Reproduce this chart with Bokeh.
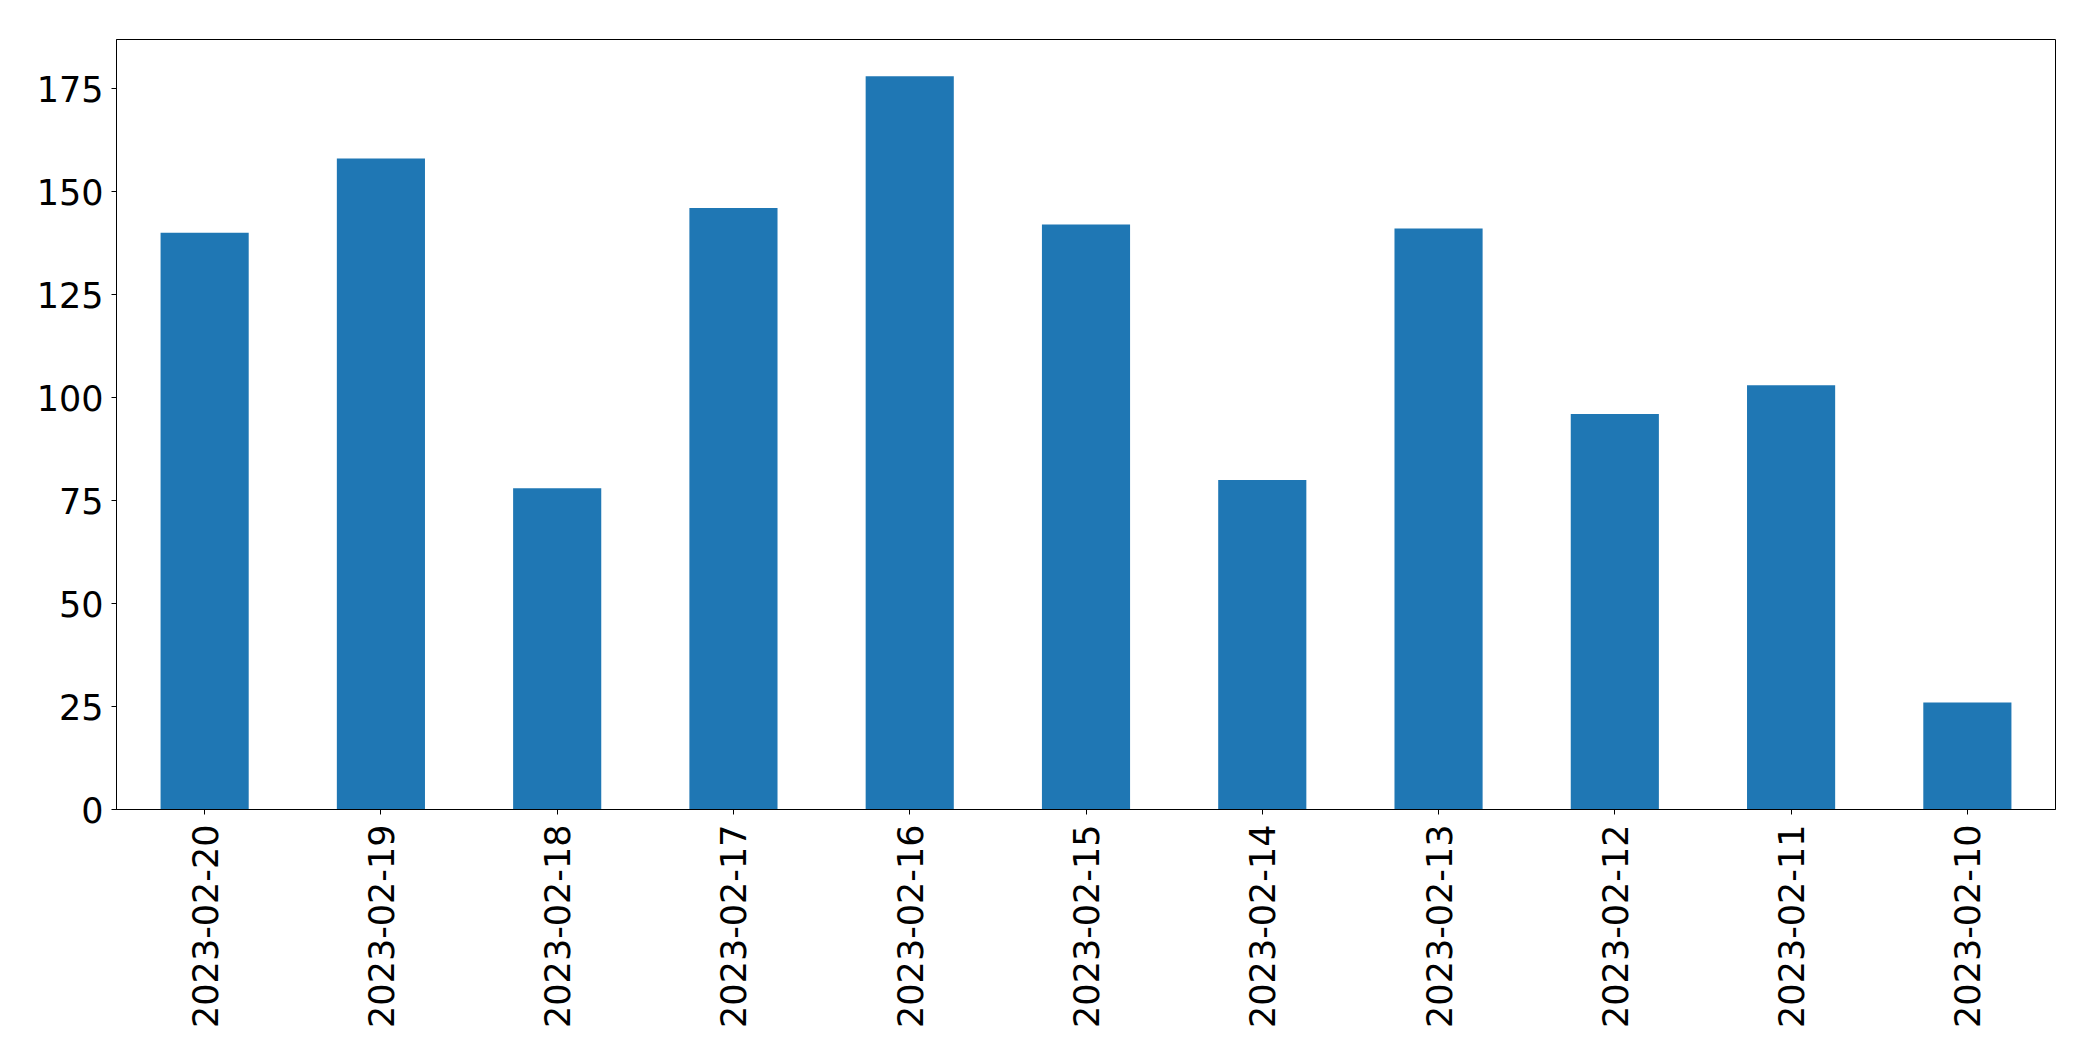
import math
from bokeh.plotting import figure
from bokeh.models import FactorRange, Range1d, FixedTicker, ColumnDataSource
from bokeh.embed import file_html
from bokeh.resources import INLINE

dates = ["2023-02-20", "2023-02-19", "2023-02-18", "2023-02-17", "2023-02-16",
         "2023-02-15", "2023-02-14", "2023-02-13", "2023-02-12", "2023-02-11",
         "2023-02-10"]
counts = [140, 158, 78, 146, 178, 142, 80, 141, 96, 103, 26]
y_ticks = [0, 25, 50, 75, 100, 125, 150, 175]

src = ColumnDataSource(data=dict(date=dates, count=counts))

p = figure(
    x_range=FactorRange(*dates, range_padding=0),
    y_range=Range1d(0, max(counts) * 1.05),
    width=2085, height=1053,
    output_backend="svg", toolbar_location=None,
    min_border_left=116, min_border_right=30,
    min_border_top=39, min_border_bottom=244,
)
p.vbar(x="date", top="count", width=0.5, source=src,
       fill_color="#1f77b4", line_color=None)

p.xgrid.visible = False
p.ygrid.visible = False
p.outline_line_color = "black"
p.outline_line_width = 1
p.outline_line_alpha = 1
p.background_fill_color = "white"
p.border_fill_color = "white"

p.yaxis.ticker = FixedTicker(ticks=y_ticks)
p.xaxis.major_label_orientation = math.pi / 2

for ax in (p.xaxis[0], p.yaxis[0]):
    ax.axis_line_color = "black"
    ax.major_tick_line_color = "black"
    ax.major_tick_out = 5
    ax.major_tick_in = 0
    ax.minor_tick_line_color = None
    ax.major_label_text_font = "DejaVu Sans"
    ax.major_label_text_font_size = "35px"
    ax.major_label_text_color = "black"
p.xaxis.major_label_standoff = 10
p.yaxis.major_label_standoff = 8

open("out.html", "w").write(file_html(p, INLINE))
